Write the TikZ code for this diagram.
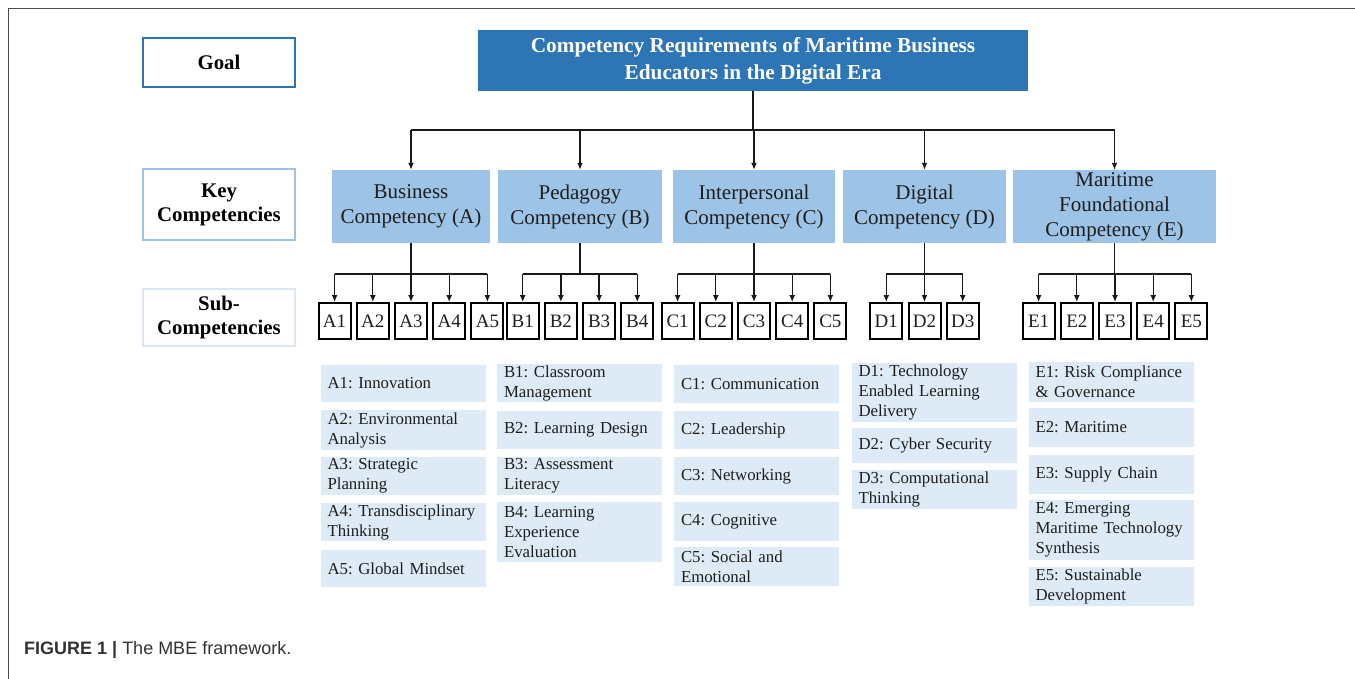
\documentclass[tikz,border=0pt]{standalone}
\usepackage{fontspec}
\setmainfont{Liberation Serif}
\newfontfamily\capfont{Liberation Sans}
\usetikzlibrary{arrows.meta}
\definecolor{darkblue}{HTML}{2E75B6}
\definecolor{midblue}{HTML}{9DC3E6}
\definecolor{paleblue}{HTML}{DEEAF6}
\definecolor{lineblue}{HTML}{DCE7F3}
\definecolor{framegray}{HTML}{4A4A4A}
\definecolor{txt}{HTML}{1E1E1E}
\frenchspacing
\begin{document}
\begin{tikzpicture}[x=1pt,y=-1pt,
  lbl/.style={draw, line width=2pt, fill=white, minimum width=152pt, align=center,
    inner sep=0pt, text=black, font=\bfseries\fontsize{20.8}{24}\selectfont},
  titlebox/.style={fill=darkblue, minimum width=550pt, minimum height=61pt, align=center,
    inner sep=0pt, text=white, font=\bfseries\fontsize{21.3}{27}\selectfont},
  keybox/.style={fill=midblue, minimum height=73pt, align=center, inner sep=0pt,
    text=txt, font=\fontsize{21}{25}\selectfont},
  subbox/.style={draw=black, line width=2pt, fill=white, minimum width=32pt, minimum height=36pt,
    inner sep=0pt, text=txt, font=\fontsize{19}{22}\selectfont},
  desc/.style={fill=paleblue, inner xsep=7pt, inner ysep=0pt, text width=151pt, align=left,
    text=txt, font=\fontsize{16.8}{20}\selectfont},
  conn/.style={draw=black!90, line width=1.3pt},
  arr/.style={conn, -{Latex[length=7pt,width=6pt]}}
]
\useasboundingbox (0,0) rectangle (1355,679);
\fill[white] (0,0) rectangle (1355,679);
% frame
\draw[framegray, line width=1.6pt] (8.5,679) -- (8.5,8.5) -- (1355,8.5);

% row labels
\node[lbl, draw=darkblue, minimum height=49pt] (goal) at (219,62.5) {Goal};
\node[lbl, draw=midblue, minimum height=71pt] (keylbl) at (219,204.5) {Key\\Competencies};
\node[lbl, draw=lineblue, minimum height=57pt] (sublbl) at (219,317.5) {Sub-\\Competencies};

% goal
\node[titlebox] (title) at (753,60.5) {Competency Requirements of Maritime Business\\Educators in the Digital Era};

% key competencies
\node[keybox, minimum width=158pt] (bus) at (411,206.5) {Business\\Competency (A)};
\node[keybox, minimum width=164pt] (ped) at (580,206.5) {Pedagogy\\Competency (B)};
\node[keybox, minimum width=162pt] (int) at (754,206.5) {Interpersonal\\Competency (C)};
\node[keybox, minimum width=163pt] (dig) at (924.5,206.5) {Digital\\Competency (D)};
\node[keybox, minimum width=203pt] (mar) at (1114.5,206.5) {Maritime\\Foundational\\Competency (E)};

% top connectors
\coordinate (jT) at (753,130);
\draw[conn] (title.south) -- (jT);
\draw[conn] (jT -| bus.north) -- (jT -| mar.north);
\foreach \k in {bus,ped,int,dig,mar} \draw[arr] (jT -| \k.north) -- (\k.north);

% sub-competency boxes
\foreach \n/\x in {A1/334.6,A2/372.8,A3/411,A4/449.2,A5/487.4,
                   B1/522.7,B2/560.9,B3/599.1,B4/637.3,
                   C1/677.6,C2/715.8,C3/754,C4/792.2,C5/830.4,
                   D1/886.3,D2/924.5,D3/962.7,
                   E1/1038.6,E2/1076.8,E3/1115,E4/1153.2,E5/1191.4}
  \node[subbox] (\n) at (\x,321) {\n};

% sub connectors
\foreach \p/\f/\l/\list in {bus/A1/A5/{A1,A2,A3,A4,A5},
                            ped/B1/B4/{B1,B2,B3,B4},
                            int/C1/C5/{C1,C2,C3,C4,C5},
                            dig/D1/D3/{D1,D2,D3},
                            mar/E1/E5/{E1,E2,E3,E4,E5}}{
  \coordinate (j\p) at (\p.south |- 0,274);
  \draw[conn] (\p.south) -- (j\p);
  \draw[conn] (j\p -| \f.north) -- (j\p -| \l.north);
  \foreach \c in \list \draw[arr] (j\p -| \c.north) -- (\c.north);
}

% descriptions A
\node[desc, minimum height=37pt] (dA1) at (403,383.5) {A1: Innovation};
\node[desc, minimum height=40pt] (dA2) at (403,430) {A2: Environmental\\Analysis};
\node[desc, minimum height=38pt] (dA3) at (403,476) {A3: Strategic\\Planning};
\node[desc, minimum height=38pt] (dA4) at (403,522) {A4: Transdisciplinary\\Thinking};
\node[desc, minimum height=37pt] (dA5) at (403,568.5) {A5: Global Mindset};
% B
\node[desc, minimum height=38pt] (dB1) at (579.5,383) {B1: Classroom\\Management};
\node[desc, minimum height=38pt] (dB2) at (579.5,430) {B2: Learning Design};
\node[desc, minimum height=38pt] (dB3) at (579.5,476) {B3: Assessment\\Literacy};
\node[desc, minimum height=60pt] (dB4) at (579.5,532) {B4: Learning\\Experience\\Evaluation};
% C
\node[desc, minimum height=38pt] (dC1) at (756.5,384) {C1: Communication};
\node[desc, minimum height=38pt] (dC2) at (756.5,430) {C2: Leadership};
\node[desc, minimum height=38pt] (dC3) at (756.5,476) {C3: Networking};
\node[desc, minimum height=39pt] (dC4) at (756.5,521.5) {C4: Cognitive};
\node[desc, minimum height=39pt] (dC5) at (756.5,566.5) {C5: Social and\\Emotional};
% D
\node[desc, minimum height=59pt] (dD1) at (934,392.5) {D1: Technology\\Enabled Learning\\Delivery};
\node[desc, minimum height=35pt] (dD2) at (934,445.5) {D2: Cyber Security};
\node[desc, minimum height=39pt] (dD3) at (934,489.5) {D3: Computational\\Thinking};
% E
\node[desc, minimum height=40pt] (dE1) at (1111,382) {E1: Risk Compliance\\\& Governance};
\node[desc, minimum height=39pt] (dE2) at (1111,427.5) {E2: Maritime};
\node[desc, minimum height=39pt] (dE3) at (1111,474.5) {E3: Supply Chain};
\node[desc, minimum height=60pt] (dE4) at (1111,530) {E4: Emerging\\Maritime Technology\\Synthesis};
\node[desc, minimum height=39pt] (dE5) at (1111,586.5) {E5: Sustainable\\Development};

% caption
\node[anchor=base west, inner sep=0pt, text=black!80, font=\capfont\fontsize{18}{20}\selectfont]
  (cap) at (24,654) {\textbf{FIGURE 1 |} The MBE framework.};
\end{tikzpicture}
\end{document}
